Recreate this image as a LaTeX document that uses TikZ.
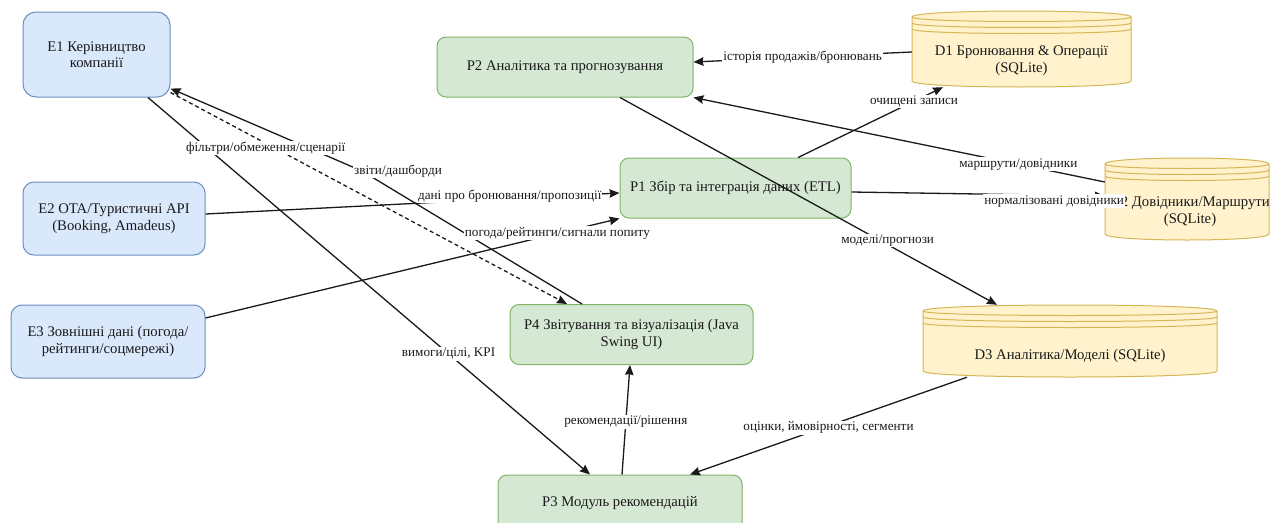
\documentclass[tikz,border=0pt]{standalone}
\usepackage{fontspec}
\setmainfont{Liberation Serif}
\usetikzlibrary{arrows.meta,calc}
\definecolor{extfill}{HTML}{DAE8FC}
\definecolor{extline}{HTML}{6C8EBF}
\definecolor{procfill}{HTML}{D5E8D4}
\definecolor{procline}{HTML}{82B366}
\definecolor{storefill}{HTML}{FFF2CC}
\definecolor{storeline}{HTML}{D6B656}
\definecolor{ink}{HTML}{1A1A1A}
\tikzset{
  boxbase/.style={rectangle, draw, line width=1pt, align=center, inner sep=2pt,
    font=\fontsize{14.7}{16.5}\selectfont, text=ink},
  extbox/.style={boxbase, fill=extfill, draw=extline, rounded corners=11pt},
  procbox/.style={boxbase, fill=procfill, draw=procline, rounded corners=9pt},
  storetext/.style={align=center, inner sep=0pt, font=\fontsize{14.7}{17}\selectfont, text=ink},
  flow/.style={draw=ink, line width=1.3pt, -{Stealth[length=10pt,width=8.5pt,inset=1pt]}},
  dashedflow/.style={flow, dash pattern=on 4pt off 3pt},
  lbl/.style={fill=white, inner sep=1pt, font=\fontsize{13.2}{15}\selectfont, text=ink},
}
% data store drawn as a cylinder with three front rims: name, left, top, width, height
\newcommand\datastore[5]{%
  \path[draw=storeline, fill=storefill, line width=1pt]
    (#2,#3+6) .. controls (#2,#3-2) and (#2+#4,#3-2) .. (#2+#4,#3+6)
    -- (#2+#4,#3+#5-6) .. controls (#2+#4,#3+#5+2) and (#2,#3+#5+2) .. (#2,#3+#5-6) -- cycle;
  \foreach \k in {1,2,3} {
    \draw[storeline, line width=1pt]
      (#2,#3+6*\k) .. controls (#2,#3+6*\k+6) and (#2+#4,#3+6*\k+6) .. (#2+#4,#3+6*\k);
  }
  \node[minimum width=#4pt, minimum height=#5pt, inner sep=0pt] (#1) at (#2+#4/2,#3+#5/2) {};
}
\begin{document}
\begin{tikzpicture}[x=1pt, y=-1pt]
\useasboundingbox (0,0) rectangle (1271,522);
\fill[white] (0,0) rectangle (1271,522);
\clip (0,0) rectangle (1271,522);

% external entities
\node[extbox, minimum width=147pt, minimum height=85pt, rounded corners=13pt] (E1) at (96.5,54.5)
  {E1 Керівництво\\компанії};
\node[extbox, minimum width=182pt, minimum height=73pt] (E2) at (114,218.5)
  {E2 OTA/Туристичні API\\(Booking, Amadeus)};
\node[extbox, minimum width=194pt, minimum height=73pt] (E3) at (108,341.5)
  {E3 Зовнішні дані (погода/\\рейтинги/соцмережі)};

% processes
\node[procbox, minimum width=256pt, minimum height=60pt] (P2) at (565,67)
  {P2 Аналітика та прогнозування};
\node[procbox, minimum width=231pt, minimum height=60pt] (P1) at (735.5,188)
  {P1 Збір та інтеграція даних (ETL)};
\node[procbox, minimum width=243pt, minimum height=60pt] (P4) at (631.5,334.5)
  {P4 Звітування та візуалізація (Java\\Swing UI)};
\node[procbox, minimum width=244pt, minimum height=56pt] (P3) at (620,503)
  {P3 Модуль рекомендацій};

% data stores
\datastore{D1}{912}{11}{219}{76}
\node[storetext] at (1021.5,61) {D1 Бронювання \& Операції\\(SQLite)};
\datastore{D2}{1105}{158}{164}{82}
\node[storetext] at (1190,212) {D2 Довідники/Маршрути\\(SQLite)};
\datastore{D3}{923}{305}{294}{72}
\node[storetext] at (1070,356) {D3 Аналітика/Моделі (SQLite)};

% data flows
\draw[flow] ([yshift=-3pt]D1.west) -- ([yshift=5pt]P2.east) coordinate[pos=0.5] (m1);
\draw[flow] ([xshift=62.5pt]P1.north) -- ([xshift=-78.5pt]D1.south) coordinate[pos=0.8] (m2);
\draw[flow] ([yshift=17pt]D2.west) -- (P2.south east) coordinate[pos=0.21] (m3);
\draw[flow] ([yshift=-4pt]P1.east) -- ([yshift=3pt]D2.west) coordinate[pos=0.8] (m4);
\draw[flow] ([xshift=55pt]P2.south) -- ([xshift=-73pt]D3.north) coordinate[pos=0.71] (m5);
\draw[flow] ([yshift=4.5pt]E2.east) -- ([yshift=-5pt]P1.west) coordinate[pos=0.735] (m6);
\draw[flow] ([yshift=23.5pt]E3.east) -- (P1.south west) coordinate[pos=0.85] (m7);
\coordinate (bend) at (362,171);
\draw[flow] ([xshift=-49.5pt]P4.north) -- (bend) -- ([yshift=9pt]E1.south east);
\draw[dashedflow] ([yshift=5pt]E1.south east) -- ([xshift=-64.5pt]P4.north) coordinate[pos=0.24] (m9);
\draw[flow] ([xshift=51.5pt]E1.south) -- ([xshift=-30pt]P3.north) coordinate[pos=0.68] (m10);
\draw[flow] ([xshift=2pt]P3.north) -- ([xshift=-1.5pt]P4.south) coordinate[pos=0.48] (m11);
\draw[flow] ([xshift=-103pt]D3.south) -- ([xshift=70pt]P3.north) coordinate[pos=0.5] (m12);

% flow labels
\node[lbl] at (m1) {історія продажів/бронювань};
\node[lbl] at (m2) {очищені записи};
\node[lbl] at (m3) {маршрути/довідники};
\node[lbl, yshift=-6pt] at (m4) {нормалізовані довідники};
\node[lbl, yshift=4pt] at (m5) {моделі/прогнози};
\node[lbl, yshift=2.5pt] at (m6) {дані про бронювання/пропозиції};
\node[lbl] at (m7) {погода/рейтинги/сигнали попиту};
\node[lbl] at ([xshift=36pt]bend) {звіти/дашборди};
\node[lbl, yshift=-5pt] at (m9) {фільтри/обмеження/сценарії};
\node[lbl] at (m10) {вимоги/цілі, KPI};
\node[lbl] at (m11) {рекомендації/рішення};
\node[lbl, yshift=-2pt] at (m12) {оцінки, ймовірності, сегменти};
\end{tikzpicture}
\end{document}
